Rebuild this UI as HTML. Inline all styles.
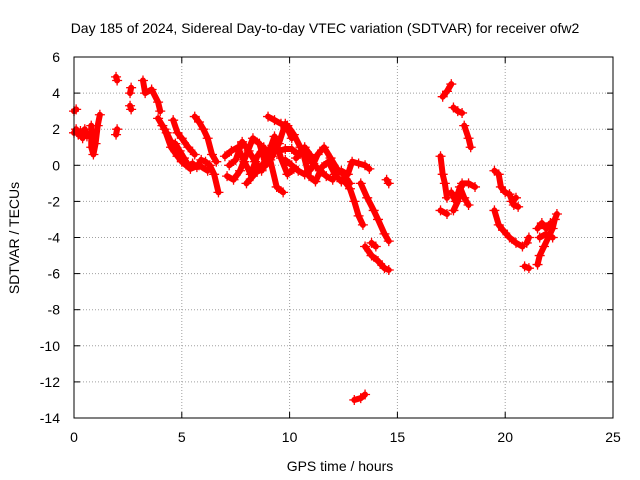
<!DOCTYPE html>
<html><head><meta charset="utf-8"><style>
html,body{margin:0;padding:0;background:#fff;}
svg{display:block;font-family:"Liberation Sans",sans-serif;}
</style></head><body>
<svg id="chart" width="640" height="480" viewBox="0 0 640 480" xmlns="http://www.w3.org/2000/svg">
<rect width="640" height="480" fill="#fff"/>
<text x="325" y="33" font-size="14" text-anchor="middle">Day 185 of 2024, Sidereal Day-to-day VTEC variation (SDTVAR) for receiver ofw2</text>
<g id="grid"></g>
<g id="ticks"></g>
<g id="data"></g>
<rect x="74" y="57" width="539" height="361" fill="none" stroke="#000" stroke-width="1"/>
<text x="340" y="471" font-size="14" text-anchor="middle">GPS time / hours</text>
<text transform="translate(19,238) rotate(-90)" font-size="14" text-anchor="middle">SDTVAR / TECUs</text>
</svg>
<script>
const xTicks=[0,5,10,15,20,25];
const yTicks=[6,4,2,0,-2,-4,-6,-8,-10,-12,-14];
const tracks=[
[[0,3.0],[0.1,3.1]],
[[0,1.8],[0.1,2.0],[0.2,1.7],[0.3,1.9],[0.4,1.5],[0.5,2.0],[0.6,1.6]],
[[0.8,2.2],[0.8,1.0],[0.9,0.6],[1.0,1.2],[1.1,2.2],[1.2,2.8]],
[[1.95,4.9],[2.0,4.7]],[[1.95,1.7],[2.0,2.0]],
[[2.6,4.0],[2.65,4.3]],[[2.6,3.3],[2.65,3.1]],
[[3.2,4.7],[3.3,4.0],[3.6,4.2],[3.9,3.5],[4.0,3.0]],
[[3.9,2.6],[4.1,2.2],[4.3,1.8],[4.5,1.3],[4.7,1.2],[4.9,0.8],[5.1,0.4],[5.3,0.0],[5.5,0.1],[5.7,-0.1],[5.9,0.3],[6.1,0.2],[6.3,0.0],[6.5,-0.5],[6.7,-1.5]],
[[4.6,2.5],[4.8,1.8],[5.0,1.5],[5.3,1.0],[5.6,0.6]],
[[4.2,2.0],[4.5,1.0],[4.8,0.5],[5.0,0.2],[5.4,-0.2],[5.8,0.0],[6.2,-0.3]],
[[5.6,2.7],[5.8,2.4],[6.0,2.0],[6.2,1.5],[6.4,0.6],[6.6,0.2]],
[[7.0,0.5],[7.3,0.8],[7.6,1.0],[7.9,0.2],[8.2,-0.5],[8.5,0.5],[8.8,1.0],[9.1,0.3],[9.4,-1.2],[9.7,-1.5]],
[[7.1,-0.6],[7.4,-0.8],[7.7,-0.3],[8.0,0.6],[8.3,1.5],[8.6,1.2],[8.9,0.0],[9.2,0.5],[9.5,1.2],[9.8,2.3],[10.1,1.5]],
[[7.2,0.0],[7.5,0.3],[7.8,1.3],[8.1,0.8],[8.4,0.2],[8.7,-0.3],[9.0,0.6],[9.3,1.6],[9.6,0.4],[9.9,-0.5],[10.2,-0.2]],
[[9.0,2.7],[9.3,2.5],[9.6,2.3],[9.9,2.2],[10.2,1.7],[10.5,1.0],[10.8,0.5],[11.1,0.1],[11.4,-0.3],[11.7,-0.6],[12.0,-0.8]],
[[9.8,0.3],[10.1,0.0],[10.4,-0.3],[10.7,-0.5],[11.0,-0.2],[11.3,0.6],[11.6,1.0],[11.9,0.4],[12.2,-0.2],[12.5,-0.5],[12.8,-1.0]],
[[10.3,0.4],[10.6,0.8],[10.9,-0.6],[11.2,-0.9],[11.5,-0.1],[11.8,0.2],[12.1,-0.5],[12.4,-0.9]],
[[8.0,-1.0],[8.3,-0.6],[8.6,-0.2],[8.9,0.3],[9.2,1.1],[9.5,0.8],[9.8,0.9],[10.1,0.9],[10.4,0.6],[10.7,1.0],[11.0,0.5]],
[[12.4,-0.3],[12.7,-0.5],[12.9,0.2],[13.2,0.1],[13.5,0.0],[13.7,-0.2]],
[[12.5,-0.8],[12.8,-1.3],[13.0,-2.0],[13.2,-2.8],[13.4,-3.3]],
[[13.3,-1.0],[13.6,-1.8],[13.9,-2.5],[14.1,-3.0],[14.4,-3.8],[14.6,-4.2]],
[[13.5,-4.5],[13.8,-5.0],[14.1,-5.3],[14.4,-5.7],[14.6,-5.8]],
[[13.8,-4.3],[14.0,-4.5]],
[[14.5,-0.8],[14.6,-1.0]],
[[13.0,-13.0],[13.3,-12.9],[13.5,-12.7]],
[[17.1,3.8],[17.3,4.1],[17.5,4.5]],
[[17.0,0.5],[17.1,-0.5],[17.2,-1.0],[17.3,-1.8]],
[[17.0,-2.5],[17.3,-2.7]],
[[17.5,-1.5],[17.7,-2.0],[17.9,-1.2],[18.1,-1.8],[18.3,-2.2]],
[[17.6,-2.5],[17.8,-2.0],[18.0,-1.0],[18.3,-1.0],[18.6,-1.2]],
[[17.6,3.2],[17.8,3.0],[18.0,2.9]],
[[18.1,2.2],[18.3,1.5],[18.4,1.0]],
[[19.5,-0.3],[19.7,-0.5],[19.8,-1.2],[20.0,-1.5],[20.2,-1.6],[20.4,-2.2],[20.6,-2.3]],
[[19.5,-2.5],[19.7,-3.3],[19.9,-3.6],[20.2,-4.0],[20.5,-4.3],[20.8,-4.5]],
[[20.3,-2.0],[20.5,-1.8]],
[[20.9,-5.6],[21.1,-5.7]],[[21.0,-4.3],[21.1,-4.0]],
[[21.5,-5.5],[21.6,-5.0],[21.8,-4.5],[22.0,-4.0],[22.2,-3.5],[22.3,-3.0],[22.4,-2.7]],
[[21.5,-3.5],[21.7,-3.2],[21.9,-3.5],[22.1,-3.2]],
[[21.6,-4.0],[21.9,-3.8],[22.2,-4.0]]
];
const NS='http://www.w3.org/2000/svg';
const X0=74,X1=613,Y0=418,Y1=57,xmin=0,xmax=25,ymin=-14,ymax=6;
function sx(v){return X0+(v-xmin)/(xmax-xmin)*(X1-X0);}
function sy(v){return Y0-(v-ymin)/(ymax-ymin)*(Y0-Y1);}
function mk(t,a,p){const e=document.createElementNS(NS,t);for(const k in a)e.setAttribute(k,a[k]);p.appendChild(e);return e;}
const grid=document.getElementById('grid'),ticks=document.getElementById('ticks'),data=document.getElementById('data');
xTicks.forEach(v=>{const x=sx(v);
 if(v>xmin&&v<xmax){const g=mk('line',{x1:x,x2:x,y1:Y0,y2:Y1,stroke:'#a0a0a0','stroke-dasharray':'1,2'},grid);}
 mk('line',{x1:x,x2:x,y1:Y0,y2:Y0-6,stroke:'#000'},ticks);mk('line',{x1:x,x2:x,y1:Y1,y2:Y1+6,stroke:'#000'},ticks);
 const t=mk('text',{x:x,y:Y0+24,'font-size':14,'text-anchor':'middle'},ticks);t.textContent=v;
 });
yTicks.forEach(v=>{const y=sy(v);
 if(v>ymin&&v<ymax){const g=mk('line',{x1:X0,x2:X1,y1:y,y2:y,stroke:'#a0a0a0','stroke-dasharray':'1,2'},grid);}
 mk('line',{x1:X0,x2:X0+6,y1:y,y2:y,stroke:'#000'},ticks);mk('line',{x1:X1,x2:X1-6,y1:y,y2:y,stroke:'#000'},ticks);
 const t=mk('text',{x:X0-14,y:y+5,'font-size':14,'text-anchor':'end'},ticks);t.textContent=v;
 });
tracks.forEach(tr=>{
 const pl=mk('polyline',{points:tr.map(p=>sx(p[0])+','+sy(p[1])).join(' '),fill:'none',stroke:'#f00','stroke-width':6,'stroke-linejoin':'round','stroke-linecap':'round'},data);
 
 
 tr.forEach(p=>{const x=sx(p[0]),y=sy(p[1]);
  const m=mk('path',{d:`M${x-5},${y}H${x+5}M${x},${y-5}V${y+5}`,stroke:'#f00','stroke-width':1.3},data);
  
  });
});
</script>
</body></html>
